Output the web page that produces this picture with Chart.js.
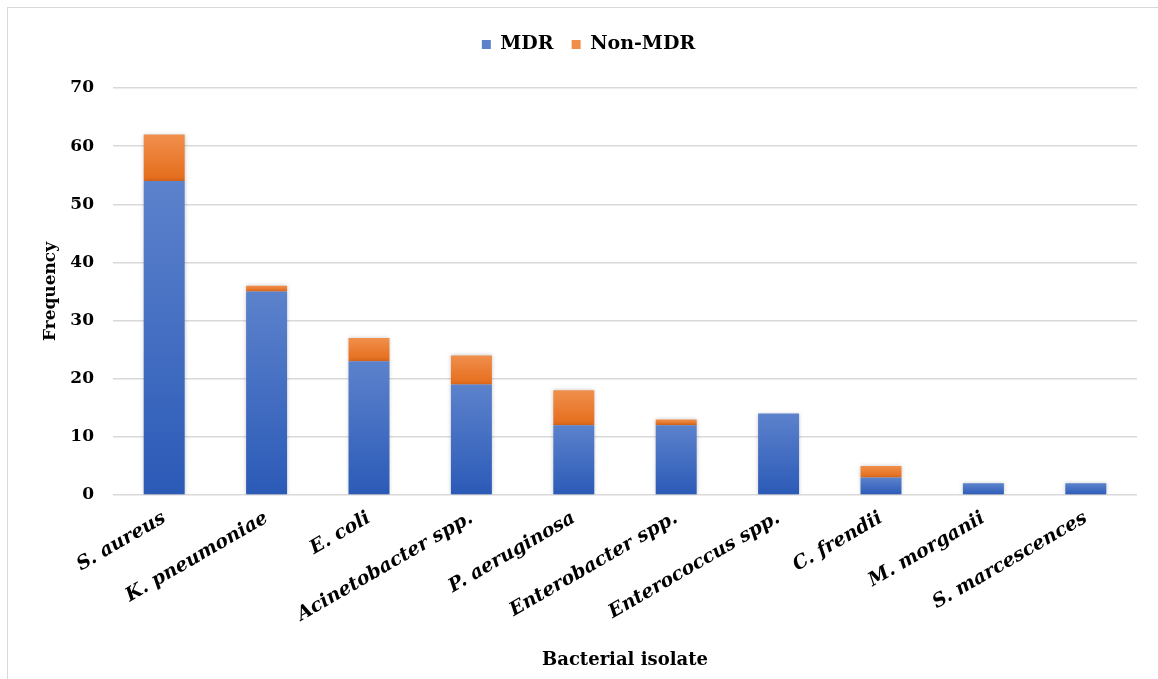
<!DOCTYPE html>
<html>
<head>
<meta charset="utf-8">
<script src="https://cdn.jsdelivr.net/npm/chart.js@4.4.1/dist/chart.umd.min.js"></script>
<style>
  html, body { margin: 0; padding: 0; background: #ffffff; overflow: hidden; }
  #frame {
    position: absolute; left: 7px; top: 7px; width: 1151px; height: 672px;
    border-top: 1.5px solid #d9d9d9; border-left: 1.5px solid #d9d9d9; box-sizing: border-box;
  }
  #chart { position: absolute; left: 0; top: 0; }
</style>
</head>
<body>
<div id="frame"></div>
<canvas id="chart" width="1158" height="679"></canvas>
<script>
// Bacterial isolates and their MDR / non-MDR counts
const isolates = [
  'S. aureus', 'K. pneumoniae', 'E. coli', 'Acinetobacter spp.', 'P. aeruginosa',
  'Enterobacter spp.', 'Enterococcus spp.', 'C. frendii', 'M. morganii', 'S. marcescences'
];
const mdrCounts    = [54, 35, 23, 19, 12, 12, 14, 3, 2, 2];
const nonMdrCounts = [ 8,  1,  4,  5,  6,  1,  0, 2, 0, 0];
const yTicks = [0, 10, 20, 30, 40, 50, 60, 70];

const SERIF = '"DejaVu Serif", "Liberation Serif", serif';
const BLUE = ['#5c82cc', '#2b5ab7', '#4472c4'];
const ORANGE = ['#f08f4c', '#e56c1b', '#ed7d31'];

// Vertical gradient for each stacked segment, light at its top, darker at its base
function segmentFill(colors) {
  return function (ctx) {
    const chart = ctx.chart;
    const y = chart.scales && chart.scales.y;
    if (ctx.type !== 'data' || !y) return colors[2];
    const i = ctx.dataIndex;
    const base = ctx.datasetIndex === 0 ? 0 : mdrCounts[i];
    const top = ctx.datasetIndex === 0 ? mdrCounts[i] : mdrCounts[i] + nonMdrCounts[i];
    const yTop = y.getPixelForValue(top);
    const yBase = y.getPixelForValue(base);
    if (!isFinite(yTop) || !isFinite(yBase) || yTop === yBase) return colors[2];
    const g = chart.ctx.createLinearGradient(0, yTop, 0, yBase);
    g.addColorStop(0, colors[0]);
    g.addColorStop(1, colors[1]);
    return g;
  };
}

// Soft shadow around the bars
const barShadow = {
  id: 'barShadow',
  beforeDatasetsDraw(chart) {
    const c = chart.ctx;
    c.save();
    c.shadowColor = 'rgba(0,0,0,0.22)';
    c.shadowBlur = 4;
    c.shadowOffsetX = 0;
    c.shadowOffsetY = 0;
  },
  afterDatasetsDraw(chart) {
    chart.ctx.restore();
  }
};

// Extra room between the legend and the plot
const legendGap = {
  id: 'legendGap',
  beforeInit(chart) {
    const fit = chart.legend.fit;
    chart.legend.fit = function () {
      fit.call(this);
      this.height += 24;
    };
  }
};

new Chart(document.getElementById('chart'), {
  type: 'bar',
  data: {
    labels: isolates,
    datasets: [
      {
        label: 'MDR',
        data: mdrCounts,
        backgroundColor: segmentFill(BLUE),
        borderWidth: 0,
        barPercentage: 0.4,
        categoryPercentage: 1
      },
      {
        label: 'Non-MDR',
        data: nonMdrCounts,
        backgroundColor: segmentFill(ORANGE),
        borderWidth: 0,
        barPercentage: 0.4,
        categoryPercentage: 1
      }
    ]
  },
  plugins: [barShadow, legendGap],
  options: {
    responsive: false,
    animation: false,
    layout: { padding: { left: 40, right: 21, top: 17, bottom: 0 } },
    plugins: {
      legend: {
        position: 'top',
        labels: {
          boxWidth: 9,
          boxHeight: 9,
          padding: 18,
          color: '#000000',
          font: { family: SERIF, size: 19, weight: 'bold' }
        }
      },
      tooltip: { enabled: false }
    },
    scales: {
      x: {
        stacked: true,
        grid: { display: false },
        border: { display: false },
        ticks: {
          color: '#000000',
          maxRotation: 30,
          minRotation: 30,
          padding: 4,
          autoSkip: false,
          font: { family: SERIF, size: 19, weight: 'bold', style: 'italic' }
        },
        title: {
          display: true,
          text: 'Bacterial isolate',
          color: '#000000',
          padding: { top: 0, bottom: 8 },
          font: { family: SERIF, size: 18, weight: 'bold' }
        },
        afterFit(scale) { scale.height = 184; }
      },
      y: {
        stacked: true,
        min: 0,
        max: 70,
        afterBuildTicks(scale) { scale.ticks = yTicks.map(v => ({ value: v })); },
        grid: { color: '#d9d9d9', lineWidth: 1.5, drawTicks: false },
        border: { display: false },
        ticks: {
          color: '#000000',
          padding: 19,
          font: { family: SERIF, size: 17, weight: 'bold' }
        },
        title: {
          display: true,
          text: 'Frequency',
          color: '#000000',
          padding: { top: 0, bottom: 0 },
          font: { family: SERIF, size: 17, weight: 'bold' }
        },
        afterFit(scale) { scale.width = 73; }
      }
    }
  }
});
</script>
</body>
</html>
